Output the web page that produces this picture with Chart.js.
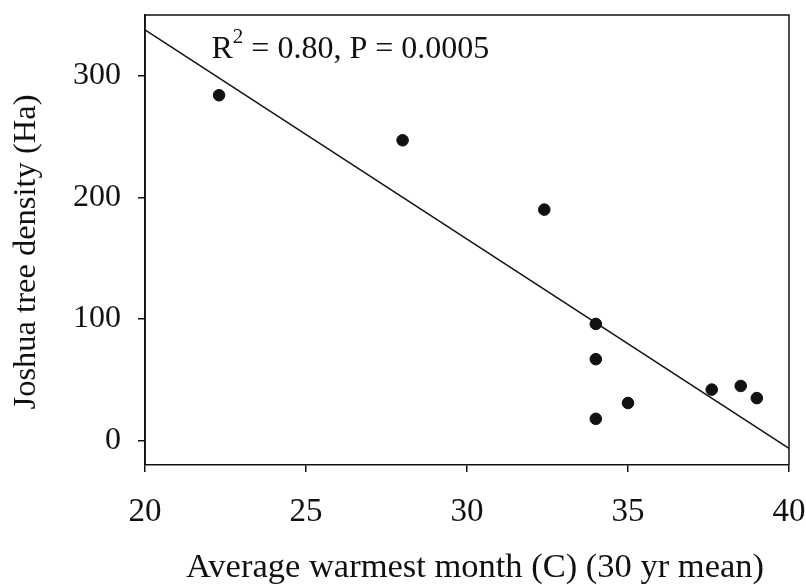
<!DOCTYPE html>
<html>
<head>
<meta charset="utf-8">
<script src="https://cdn.jsdelivr.net/npm/chart.js@4.4.1/dist/chart.umd.min.js"></script>
<style>
  html, body { margin: 0; padding: 0; background: #fff; }
  canvas { display: block; }
</style>
</head>
<body>
<canvas id="c" width="806" height="585"></canvas>
<script>
// Observations: average warmest month (C) vs Joshua tree density (Ha)
const tempX = [22.3, 28.0, 32.4, 34.0, 34.0, 34.0, 35.0, 37.6, 38.5, 39.0];
const densityY = [284, 247, 190, 96, 67, 18, 31, 42, 45, 35];
// Regression line end points
const fitX = [20, 40];
const fitY = [337.7, -6.3];
// Tick labels
const xTicks = [20, 25, 30, 35, 40];
const yTicks = [0, 100, 200, 300];
const annotationMain = 'R';
const annotationSup = '2';
const annotationRest = ' = 0.80, P = 0.0005';
const xTitle = 'Average warmest month (C) (30 yr mean)';
const yTitle = 'Joshua tree density (Ha)';

const FONT = '"Liberation Serif", "Times New Roman", serif';
const INK = '#111';

function shiftTitle(scale, dx, dy) {
  if (scale._titleShifted) return;
  scale._titleShifted = true;
  const orig = scale.drawTitle;
  scale.drawTitle = function () {
    const ctx = this.ctx;
    ctx.save();
    ctx.translate(dx, dy);
    orig.apply(this, arguments);
    ctx.restore();
  };
}

const framePlugin = {
  id: 'frame',
  afterDatasetsDraw(chart) {
    const {ctx, chartArea: a} = chart;
    ctx.save();
    ctx.strokeStyle = INK;
    ctx.lineWidth = 1.5;
    ctx.beginPath();
    ctx.moveTo(a.left, a.bottom);
    ctx.lineTo(a.left, a.top);
    ctx.lineTo(a.right, a.top);
    ctx.lineTo(a.right, a.bottom);
    ctx.stroke();
    // annotation text
    ctx.fillStyle = INK;
    ctx.textBaseline = 'alphabetic';
    ctx.textAlign = 'left';
    let x = a.left + 66.5;
    const base = a.top + 43;
    ctx.font = '32px ' + FONT;
    ctx.fillText(annotationMain, x, base);
    x += ctx.measureText(annotationMain).width;
    ctx.font = '21px ' + FONT;
    ctx.fillText(annotationSup, x, base - 15);
    x += ctx.measureText(annotationSup).width;
    ctx.font = '32px ' + FONT;
    ctx.fillText(annotationRest, x, base);
    ctx.restore();
  }
};

new Chart(document.getElementById('c'), {
  type: 'scatter',
  data: {
    datasets: [
      {
        type: 'line',
        data: fitX.map((v, i) => ({x: v, y: fitY[i]})),
        borderColor: INK,
        borderWidth: 1.5,
        pointRadius: 0,
        fill: false,
        order: 2
      },
      {
        type: 'scatter',
        data: tempX.map((v, i) => ({x: v, y: densityY[i]})),
        backgroundColor: INK,
        borderColor: INK,
        pointRadius: 5.8,
        pointHoverRadius: 5.8,
        order: 1
      }
    ]
  },
  options: {
    responsive: false,
    animation: false,
    devicePixelRatio: 1,
    layout: { padding: { top: 15, right: 17, left: 0, bottom: 0 } },
    plugins: { legend: { display: false }, tooltip: { enabled: false } },
    scales: {
      x: {
        type: 'linear',
        min: 20, max: 40,
        afterBuildTicks: s => { s.ticks = xTicks.map(v => ({value: v})); },
        afterFit: s => { s.height = 120; s.paddingLeft = 0; s.paddingRight = 0; shiftTitle(s, 8, 0); },
        grid: { drawOnChartArea: false, drawTicks: true, tickLength: 7, color: INK, lineWidth: 1.5 },
        border: { display: true, color: INK, width: 1.5 },
        ticks: { color: INK, font: { family: FONT, size: 33, lineHeight: 1 }, padding: 24, maxRotation: 0, autoSkip: false },
        title: { display: true, text: xTitle, color: INK, font: { family: FONT, size: 34.5, lineHeight: 1 }, padding: { top: 0, bottom: 0 } }
      },
      y: {
        type: 'linear',
        min: -20, max: 350,
        afterBuildTicks: s => { s.ticks = yTicks.map(v => ({value: v})); },
        afterFit: s => { s.width = 145; s.paddingTop = 0; s.paddingBottom = 0; shiftTitle(s, 0, 12); },
        grid: { drawOnChartArea: false, drawTicks: true, tickLength: 7, color: INK, lineWidth: 1.5 },
        border: { display: true, color: INK, width: 1.5 },
        ticks: { color: INK, font: { family: FONT, size: 32, lineHeight: 1 }, padding: 17, autoSkip: false },
        title: { display: true, text: yTitle, color: INK, font: { family: FONT, size: 32.5, lineHeight: 1 }, padding: { top: 10, bottom: 0 } }
      }
    }
  },
  plugins: [framePlugin]
});
</script>
</body>
</html>
